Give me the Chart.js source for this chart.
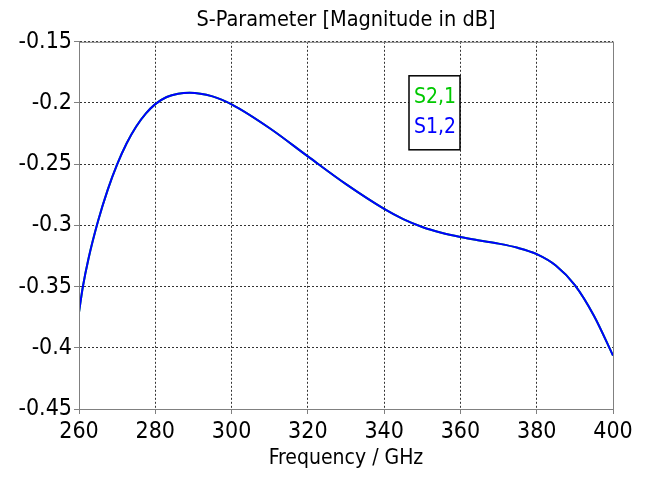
<!DOCTYPE html>
<html>
<head>
<meta charset="utf-8">
<script src="https://cdn.jsdelivr.net/npm/chart.js@4/dist/chart.umd.min.js"></script>
<style>
  html, body { margin: 0; padding: 0; background: #fff; }
  #wrap { width: 645px; height: 477px; }
</style>
</head>
<body>
<div id="wrap"><canvas id="chart" width="645" height="477"></canvas></div>
<script>
// Frequency sweep (GHz) and magnitude in dB
const freqGHz = [260, 261, 262.5, 265, 267.5, 270, 272.5, 275, 277.5, 280, 283, 286, 289, 295,
  300, 310, 320, 330, 340, 345, 350, 355, 360, 365, 370, 375, 380, 385, 390, 395, 400];
const s21 = [-0.3710, -0.3503, -0.3270, -0.2964, -0.2712, -0.2502, -0.2329, -0.2192, -0.2087,
  -0.2009, -0.1951, -0.1924, -0.1916, -0.1946, -0.2011, -0.2206, -0.2436, -0.2663, -0.2865,
  -0.2948, -0.3013, -0.3060, -0.3095, -0.3123, -0.3149, -0.3183, -0.3235, -0.3328, -0.3488,
  -0.3738, -0.4063];
const s12 = [-0.3710, -0.3503, -0.3270, -0.2964, -0.2712, -0.2502, -0.2329, -0.2192, -0.2087,
  -0.2009, -0.1951, -0.1924, -0.1916, -0.1946, -0.2011, -0.2206, -0.2436, -0.2663, -0.2865,
  -0.2948, -0.3013, -0.3060, -0.3095, -0.3123, -0.3149, -0.3183, -0.3235, -0.3328, -0.3488,
  -0.3738, -0.4063];
const seriesNames = ["S2,1", "S1,2"];
const seriesColors = ["#00c800", "#0000ff"];

const FONT = "'Liberation Sans Narrow', 'DejaVu Sans Condensed', 'DejaVu Sans', sans-serif";

function points(ys) {
  return freqGHz.map((f, i) => ({ x: f, y: ys[i] }));
}

// gray frame round the plot + boxed legend in the upper right
const framePlugin = {
  id: "frame",
  afterDraw(chart) {
    const { ctx, chartArea: a } = chart;
    ctx.save();
    ctx.strokeStyle = "#808080";
    ctx.lineWidth = 1;
    ctx.strokeRect(a.left + 0.5, a.top + 0.5, a.right - a.left, a.bottom - a.top);

    const bx = a.left + 330, by = a.top + 34;
    ctx.fillStyle = "#fff";
    ctx.fillRect(bx, by, 51, 74);
    ctx.strokeStyle = "#000";
    ctx.lineWidth = 1.5;
    ctx.strokeRect(bx, by, 51, 74);
    ctx.font = "21px " + FONT;
    ctx.textBaseline = "alphabetic";
    ctx.textAlign = "left";
    seriesNames.forEach((name, i) => {
      ctx.fillStyle = seriesColors[i];
      ctx.fillText(name, bx + 5, by + 27 + i * 30);
    });
    ctx.restore();
  }
};

const gridOpts = {
  color: "#333",
  tickLength: 5,
  tickColor: "#808080",
  tickBorderDash: []
};

new Chart(document.getElementById("chart"), {
  type: "line",
  data: {
    datasets: [
      { label: seriesNames[0], data: points(s21), borderColor: seriesColors[0], order: 2 },
      { label: seriesNames[1], data: points(s12), borderColor: seriesColors[1], order: 1 }
    ]
  },
  options: {
    responsive: false,
    animation: false,
    layout: { padding: { top: 0, right: 32, bottom: 0, left: 0 } },
    elements: {
      point: { radius: 0 },
      line: { borderWidth: 2, cubicInterpolationMode: "monotone", fill: false }
    },
    plugins: {
      legend: { display: false },
      tooltip: { enabled: false },
      title: {
        display: true,
        fullSize: false,
        text: "S-Parameter [Magnitude in dB]",
        color: "#000",
        font: { family: FONT, size: 21.5, weight: "normal" },
        padding: { top: 8, bottom: 8 }
      }
    },
    scales: {
      x: {
        type: "linear",
        min: 260,
        max: 400,
        afterFit(scale) { scale.height = 68; },
        ticks: {
          stepSize: 20,
          color: "#000",
          padding: 4,
          maxRotation: 0,
          font: { family: FONT, size: 23 }
        },
        grid: gridOpts,
        border: { color: "#808080", dash: [2, 2] },
        title: {
          display: true,
          text: "Frequency / GHz",
          color: "#000",
          font: { family: FONT, size: 21 },
          padding: { top: 2, bottom: 6 }
        }
      },
      y: {
        type: "linear",
        min: -0.45,
        max: -0.15,
        afterFit(scale) { scale.width = 79; },
        ticks: {
          stepSize: 0.05,
          color: "#000",
          padding: 2,
          font: { family: FONT, size: 23 },
          callback: (v) => String(Number(v.toFixed(2)))
        },
        grid: gridOpts,
        border: { color: "#808080", dash: [2, 2] }
      }
    }
  },
  plugins: [framePlugin]
});
</script>
</body>
</html>
